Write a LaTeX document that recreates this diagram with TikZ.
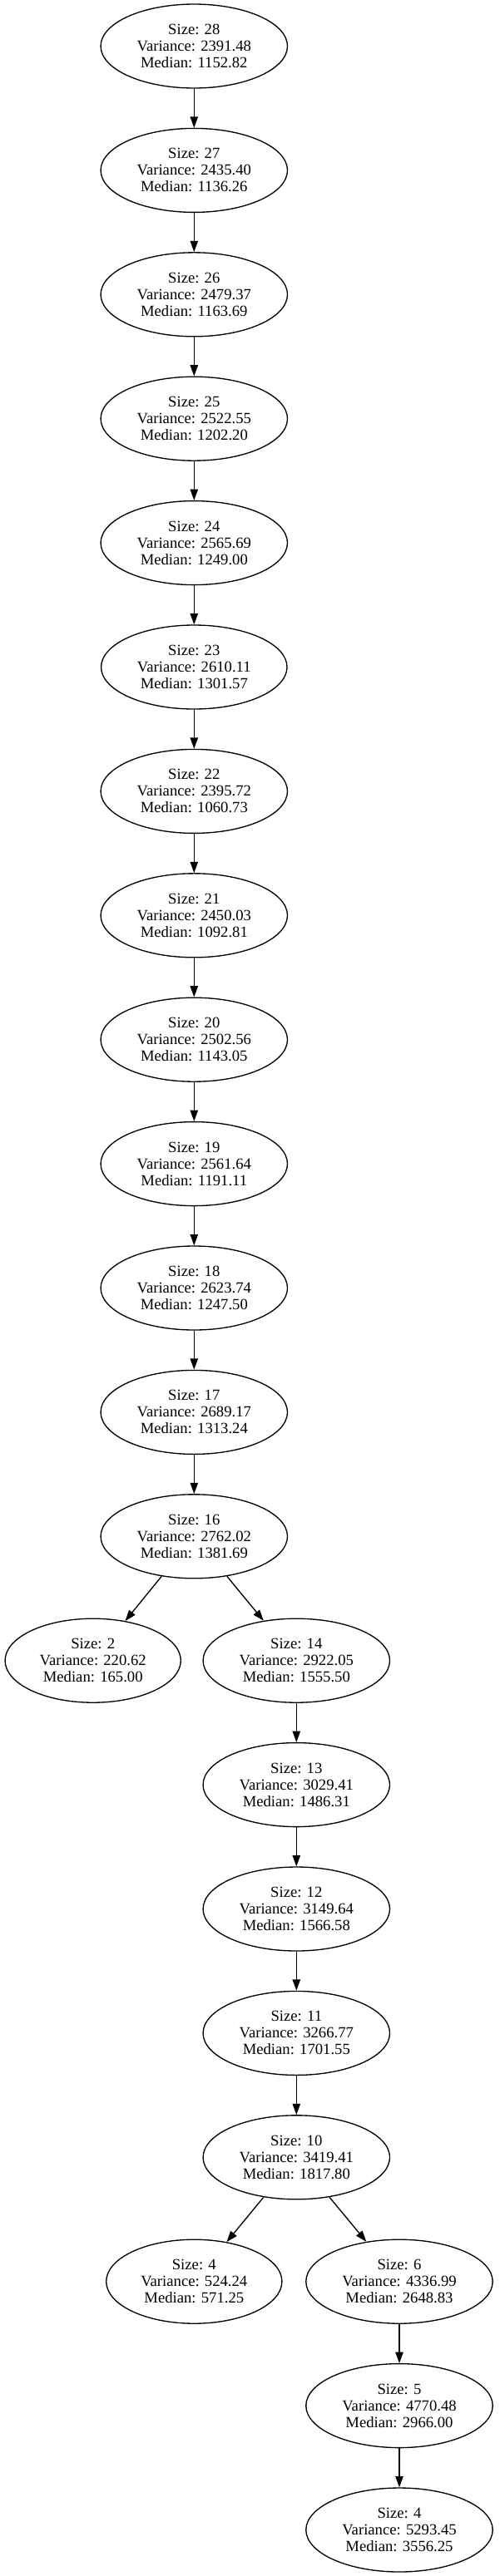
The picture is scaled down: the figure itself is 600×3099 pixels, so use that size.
\documentclass[tikz,border=0pt]{standalone}
\usepackage{fontspec}
\setmainfont{Liberation Serif}
\usetikzlibrary{shapes.geometric,arrows.meta}
\tikzset{
  tnode/.style={ellipse, draw=black, line width=1pt, align=center,
    inner xsep=8pt, inner ysep=4pt, minimum height=75.75pt,
    font=\fontsize{14pt}{15pt}\selectfont},
  tedge/.style={draw=black, line width=1pt, -{Triangle[length=10pt,width=7pt]}}
}
\newcommand{\lab}[3]{Size: #1\\Variance: #2\\Median: #3}
\begin{document}
\begin{tikzpicture}[x=0.75pt,y=-0.75pt]
\useasboundingbox (0,0) rectangle (600,3099);
\def\ystep{149.4}
\node[tnode] (n28) at (233.3,{55.5+0*\ystep}) {\lab{28}{2391.48}{1152.82}};
\node[tnode] (n27) at (233.3,{55.5+1*\ystep}) {\lab{27}{2435.40}{1136.26}};
\node[tnode] (n26) at (233.3,{55.5+2*\ystep}) {\lab{26}{2479.37}{1163.69}};
\node[tnode] (n25) at (233.3,{55.5+3*\ystep}) {\lab{25}{2522.55}{1202.20}};
\node[tnode] (n24) at (233.3,{55.5+4*\ystep}) {\lab{24}{2565.69}{1249.00}};
\node[tnode] (n23) at (233.3,{55.5+5*\ystep}) {\lab{23}{2610.11}{1301.57}};
\node[tnode] (n22) at (233.3,{55.5+6*\ystep}) {\lab{22}{2395.72}{1060.73}};
\node[tnode] (n21) at (233.3,{55.5+7*\ystep}) {\lab{21}{2450.03}{1092.81}};
\node[tnode] (n20) at (233.3,{55.5+8*\ystep}) {\lab{20}{2502.56}{1143.05}};
\node[tnode] (n19) at (233.3,{55.5+9*\ystep}) {\lab{19}{2561.64}{1191.11}};
\node[tnode] (n18) at (233.3,{55.5+10*\ystep}) {\lab{18}{2623.74}{1247.50}};
\node[tnode] (n17) at (233.3,{55.5+11*\ystep}) {\lab{17}{2689.17}{1313.24}};
\node[tnode] (n16) at (233.3,{55.5+12*\ystep}) {\lab{16}{2762.02}{1381.69}};
\node[tnode] (n2)  at (111.7,{55.5+13*\ystep}) {\lab{2}{220.62}{165.00}};
\node[tnode] (n14) at (356.3,{55.5+13*\ystep}) {\lab{14}{2922.05}{1555.50}};
\node[tnode] (n13) at (356.3,{55.5+14*\ystep}) {\lab{13}{3029.41}{1486.31}};
\node[tnode] (n12) at (356.3,{55.5+15*\ystep}) {\lab{12}{3149.64}{1566.58}};
\node[tnode] (n11) at (356.3,{55.5+16*\ystep}) {\lab{11}{3266.77}{1701.55}};
\node[tnode] (n10) at (356.3,{55.5+17*\ystep}) {\lab{10}{3419.41}{1817.80}};
\node[tnode] (n4a) at (233.3,{55.5+18*\ystep}) {\lab{4}{524.24}{571.25}};
\node[tnode] (n6)  at (480.0,{55.5+18*\ystep}) {\lab{6}{4336.99}{2648.83}};
\node[tnode] (n5)  at (480.0,{55.5+19*\ystep}) {\lab{5}{4770.48}{2966.00}};
\node[tnode] (n4b) at (480.0,{55.5+20*\ystep}) {\lab{4}{5293.45}{3556.25}};
\draw[tedge] (n28) -- (n27);
\draw[tedge] (n27) -- (n26);
\draw[tedge] (n26) -- (n25);
\draw[tedge] (n25) -- (n24);
\draw[tedge] (n24) -- (n23);
\draw[tedge] (n23) -- (n22);
\draw[tedge] (n22) -- (n21);
\draw[tedge] (n21) -- (n20);
\draw[tedge] (n20) -- (n19);
\draw[tedge] (n19) -- (n18);
\draw[tedge] (n18) -- (n17);
\draw[tedge] (n17) -- (n16);
\draw[tedge] (n16) -- (n2);
\draw[tedge] (n16) -- (n14);
\draw[tedge] (n14) -- (n13);
\draw[tedge] (n13) -- (n12);
\draw[tedge] (n12) -- (n11);
\draw[tedge] (n11) -- (n10);
\draw[tedge] (n10) -- (n4a);
\draw[tedge] (n10) -- (n6);
\draw[tedge] (n6) -- (n5);
\draw[tedge] (n5) -- (n4b);
\end{tikzpicture}
\end{document}
